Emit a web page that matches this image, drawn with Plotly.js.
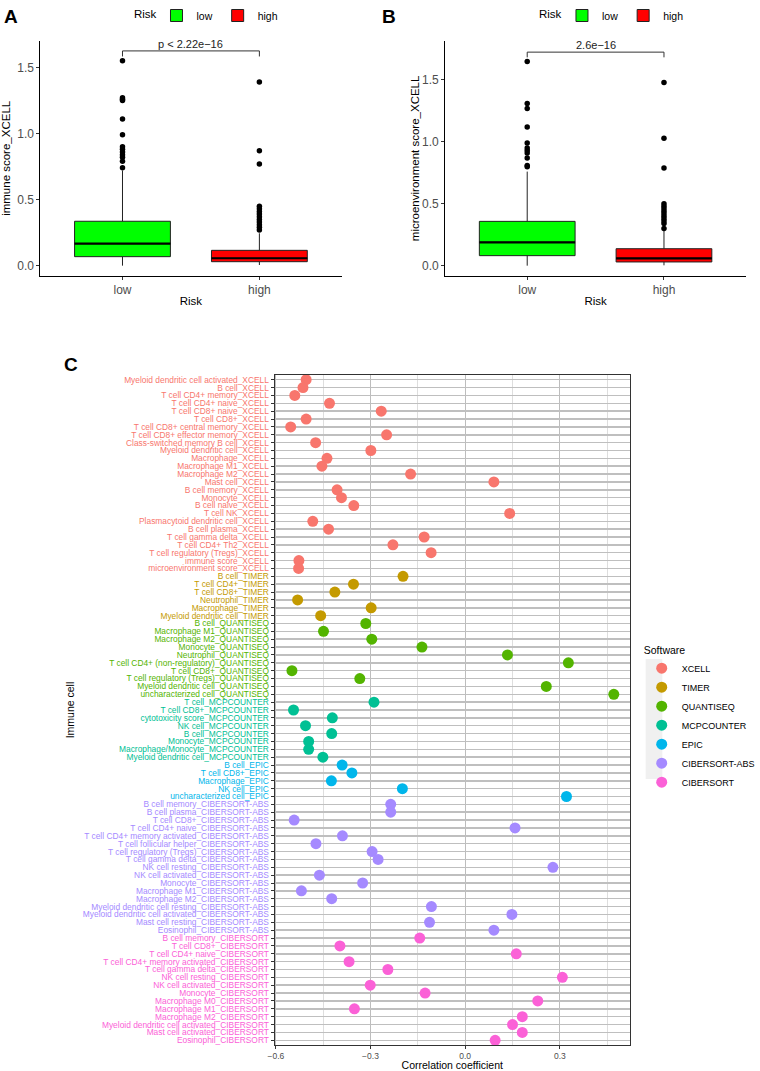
<!DOCTYPE html>
<html>
<head>
<meta charset="utf-8">
<script src="https://cdn.plot.ly/plotly-3.0.1.min.js"></script>
<style>html,body{margin:0;padding:0;background:#fff;}#chart{width:760px;height:1071px;}</style>
</head>
<body>
<div id="chart"></div>
<script>
// ---------- Panel A / B data (box statistics) ----------
const riskGroups = ['low', 'high'];
const riskColors = ['#00FF00', '#FF0000'];

const A_q1 = [0.068, 0.030];
const A_median = [0.167, 0.056];
const A_q3 = [0.336, 0.116];
const A_lowerfence = [0.0, 0.005];
const A_upperfence = [0.72, 0.245];
const A_outliersLow = [1.55, 1.27, 1.26, 1.25, 1.11, 0.99, 0.90, 0.88, 0.86, 0.84, 0.82, 0.79, 0.74];
const A_outliersHigh = [1.39, 0.87, 0.77, 0.45, 0.43, 0.41, 0.39, 0.37, 0.35, 0.33, 0.31, 0.29, 0.27];
const A_pLabel = 'p < 2.22e\u221216';

const B_q1 = [0.081, 0.030];
const B_median = [0.189, 0.059];
const B_q3 = [0.358, 0.137];
const B_lowerfence = [0.0, 0.003];
const B_upperfence = [0.76, 0.28];
const B_outliersLow = [1.65, 1.31, 1.27, 1.12, 0.99, 0.95, 0.93, 0.91, 0.87, 0.81, 0.80];
const B_outliersHigh = [1.48, 1.03, 0.79, 0.50, 0.48, 0.46, 0.44, 0.42, 0.40, 0.38, 0.36, 0.34, 0.30];
const B_pLabel = '2.6e\u221216';

// ---------- Panel C data ----------
const softwareNames = ['XCELL', 'TIMER', 'QUANTISEQ', 'MCPCOUNTER', 'EPIC', 'CIBERSORT-ABS', 'CIBERSORT'];
const softwareColors = ['#F8766D', '#C49A00', '#53B400', '#00C094', '#00B6EB', '#A58AFF', '#FB61D7'];

const xcellCells = ['Myeloid dendritic cell activated', 'B cell', 'T cell CD4+ memory', 'T cell CD4+ naive',
  'T cell CD8+ naive', 'T cell CD8+', 'T cell CD8+ central memory', 'T cell CD8+ effector memory',
  'Class-switched memory B cell', 'Myeloid dendritic cell', 'Macrophage', 'Macrophage M1', 'Macrophage M2',
  'Mast cell', 'B cell memory', 'Monocyte', 'B cell naive', 'T cell NK', 'Plasmacytoid dendritic cell',
  'B cell plasma', 'T cell gamma delta', 'T cell CD4+ Th2', 'T cell regulatory (Tregs)', 'immune score',
  'microenvironment score'];
const xcellCor = [-0.504, -0.514, -0.540, -0.430, -0.266, -0.504, -0.553, -0.249, -0.474, -0.299, -0.438,
  -0.454, -0.173, 0.091, -0.406, -0.392, -0.353, 0.141, -0.483, -0.433, -0.130, -0.229, -0.108, -0.527, -0.528];

const timerCells = ['B cell', 'T cell CD4+', 'T cell CD8+', 'Neutrophil', 'Macrophage', 'Myeloid dendritic cell'];
const timerCor = [-0.197, -0.354, -0.413, -0.531, -0.298, -0.458];

const quantiseqCells = ['B cell', 'Macrophage M1', 'Macrophage M2', 'Monocyte', 'Neutrophil',
  'T cell CD4+ (non-regulatory)', 'T cell CD8+', 'T cell regulatory (Tregs)', 'Myeloid dendritic cell',
  'uncharacterized cell'];
const quantiseqCor = [-0.315, -0.449, -0.296, -0.137, 0.134, 0.327, -0.549, -0.334, 0.257, 0.471];

const mcpcounterCells = ['T cell', 'T cell CD8+', 'cytotoxicity score', 'NK cell', 'B cell', 'Monocyte',
  'Macrophage/Monocyte', 'Myeloid dendritic cell'];
const mcpcounterCor = [-0.289, -0.544, -0.421, -0.506, -0.423, -0.496, -0.496, -0.451];

const epicCells = ['B cell', 'T cell CD8+', 'Macrophage', 'NK cell', 'uncharacterized cell'];
const epicCor = [-0.390, -0.359, -0.424, -0.199, 0.321];

const cibersortAbsCells = ['B cell memory', 'B cell plasma', 'T cell CD8+', 'T cell CD4+ naive',
  'T cell CD4+ memory activated', 'T cell follicular helper', 'T cell regulatory (Tregs)', 'T cell gamma delta',
  'NK cell resting', 'NK cell activated', 'Monocyte', 'Macrophage M1', 'Macrophage M2',
  'Myeloid dendritic cell resting', 'Myeloid dendritic cell activated', 'Mast cell resting', 'Eosinophil'];
const cibersortAbsCor = [-0.236, -0.236, -0.542, 0.158, -0.389, -0.473, -0.295, -0.276, 0.278, -0.462,
  -0.325, -0.519, -0.423, -0.107, 0.148, -0.113, 0.091];

const cibersortCells = ['B cell memory', 'T cell CD8+', 'T cell CD4+ naive', 'T cell CD4+ memory activated',
  'T cell gamma delta', 'NK cell resting', 'NK cell activated', 'Monocyte', 'Macrophage M0', 'Macrophage M1',
  'Macrophage M2', 'Myeloid dendritic cell activated', 'Mast cell activated', 'Eosinophil'];
const cibersortCor = [-0.144, -0.397, 0.162, -0.368, -0.245, 0.308, -0.301, -0.127, 0.230, -0.351, 0.181,
  0.150, 0.181, 0.095];

const cellLists = [xcellCells, timerCells, quantiseqCells, mcpcounterCells, epicCells, cibersortAbsCells, cibersortCells];
const corLists = [xcellCor, timerCor, quantiseqCor, mcpcounterCor, epicCor, cibersortAbsCor, cibersortCor];

// ---------- build ----------
const FONT = 'Liberation Sans, Arial, sans-serif';
const traces = [];
const shapes = [];
const annotations = [];
const H = 1071, W = 760;
const px = v => v / W;
const py = v => 1 - v / H;

function addBoxPanel(xa, ya, legendId, q1, med, q3, lf, uf, outLow, outHigh, pLabel) {
  riskGroups.forEach((g, i) => {
    traces.push({
      type: 'box', name: g, x: [g], q1: [q1[i]], median: [med[i]], q3: [q3[i]],
      lowerfence: [lf[i]], upperfence: [uf[i]], boxpoints: false, width: 0.7, whiskerwidth: 0,
      fillcolor: riskColors[i], line: {color: '#222', width: 1},
      xaxis: xa, yaxis: ya, legend: legendId, showlegend: true, hoverinfo: 'skip'
    });
    // thicker median line like ggplot
    shapes.push({type: 'line', xref: xa, yref: ya, x0: i - 0.35, x1: i + 0.35, y0: med[i], y1: med[i],
      line: {color: '#000', width: 2.2}});
  });
  const outs = [outLow, outHigh];
  riskGroups.forEach((g, i) => {
    traces.push({
      type: 'scatter', mode: 'markers', x: outs[i].map(() => g), y: outs[i],
      marker: {color: '#000', size: 5.5}, xaxis: xa, yaxis: ya, showlegend: false, hoverinfo: 'skip'
    });
  });
  const top = Math.max(...outLow, ...outHigh);
  const yb = top + 0.075;
  const yd = top + 0.033;
  shapes.push({type: 'path', xref: xa, yref: ya,
    path: `M 0 ${yd} L 0 ${yb} L 1 ${yb} L 1 ${yd}`, line: {color: '#333', width: 1}});
  annotations.push({xref: xa, yref: ya, x: 0.5, y: yb, text: pLabel, showarrow: false,
    yanchor: 'bottom', yshift: -1, font: {family: FONT, size: 11, color: '#222'}});
}

addBoxPanel('x', 'y', 'legend', A_q1, A_median, A_q3, A_lowerfence, A_upperfence, A_outliersLow, A_outliersHigh, A_pLabel);
addBoxPanel('x2', 'y2', 'legend2', B_q1, B_median, B_q3, B_lowerfence, B_upperfence, B_outliersLow, B_outliersHigh, B_pLabel);

const allCats = [];
const allTickText = [];
softwareNames.forEach((s, k) => {
  const labels = cellLists[k].map(c => c + '_' + s);
  labels.forEach(l => {
    allCats.push(l);
    allTickText.push(`<span style="color:${softwareColors[k]}">${l}</span>`);
  });
  traces.push({
    type: 'scatter', mode: 'markers', name: s, x: corLists[k], y: labels,
    marker: {color: softwareColors[k], size: 11},
    xaxis: 'x3', yaxis: 'y3', legend: 'legend3', hoverinfo: 'x+y'
  });
});

const boxAxisCommon = {
  showline: true, linecolor: '#000', linewidth: 1, ticks: 'outside', ticklen: 3, tickcolor: '#333',
  showgrid: false, zeroline: false, tickfont: {family: FONT, size: 12, color: '#4d4d4d'}
};

annotations.push(
  {xref: 'paper', yref: 'paper', x: px(2), y: py(4), xanchor: 'left', yanchor: 'top', text: '<b>A</b>',
    showarrow: false, font: {family: FONT, size: 19, color: '#000'}},
  {xref: 'paper', yref: 'paper', x: px(386), y: py(4), xanchor: 'left', yanchor: 'top', text: '<b>B</b>',
    showarrow: false, font: {family: FONT, size: 19, color: '#000'}},
  {xref: 'paper', yref: 'paper', x: px(63), y: py(352), xanchor: 'left', yanchor: 'top', text: '<b>C</b>',
    showarrow: false, font: {family: FONT, size: 19, color: '#000'}},
  // legend titles for panels A and B
  {xref: 'paper', yref: 'paper', x: px(162), y: py(14), xanchor: 'right', yanchor: 'middle', text: 'Risk',
    showarrow: false, font: {family: FONT, size: 11.5, color: '#000'}},
  {xref: 'paper', yref: 'paper', x: px(573), y: py(14), xanchor: 'right', yanchor: 'middle', text: 'Risk',
    showarrow: false, font: {family: FONT, size: 11.5, color: '#000'}}
);

// light grey key background behind the Software legend symbols
shapes.push({type: 'rect', xref: 'paper', yref: 'paper', x0: px(656), x1: px(673), y0: py(659), y1: py(779),
  fillcolor: '#f0f0f0', line: {width: 0}, layer: 'below'});

const layout = {
  width: W, height: H,
  margin: {l: 0, r: 0, t: 0, b: 0},
  paper_bgcolor: '#fff', plot_bgcolor: '#fff',
  font: {family: FONT, color: '#000'},
  boxmode: 'overlay',
  showlegend: true,
  xaxis: Object.assign({}, boxAxisCommon, {domain: [px(41), px(347)], anchor: 'y', type: 'category',
    categoryarray: riskGroups, range: [-0.6, 1.6],
    title: {text: 'Risk', font: {family: FONT, size: 11.5, color: '#000'}, standoff: 0}}),
  yaxis: Object.assign({}, boxAxisCommon, {domain: [py(275.7), py(41)], anchor: 'x', range: [-0.076, 1.70],
    dtick: 0.5, tickformat: '.1f',
    title: {text: 'immune score_XCELL', font: {family: FONT, size: 11.5, color: '#000'}, standoff: 4}}),
  xaxis2: Object.assign({}, boxAxisCommon, {domain: [px(452.3), px(758)], anchor: 'y2', type: 'category',
    categoryarray: riskGroups, range: [-0.6, 1.6],
    title: {text: 'Risk', font: {family: FONT, size: 11.5, color: '#000'}, standoff: 0}}),
  yaxis2: Object.assign({}, boxAxisCommon, {domain: [py(275.7), py(41)], anchor: 'x2', range: [-0.081, 1.815],
    dtick: 0.5, tickformat: '.1f',
    title: {text: 'microenvironment score_XCELL', font: {family: FONT, size: 11.5, color: '#000'}, standoff: 0}}),
  xaxis3: {domain: [px(279), px(640)], anchor: 'y3', range: [-0.604, 0.522], tick0: 0, dtick: 0.3,
    tickformat: '.1f', showline: true, mirror: true, linecolor: '#333', linewidth: 1,
    ticks: 'outside', ticklen: 3, tickcolor: '#333', zeroline: false,
    showgrid: true, gridcolor: '#bdbdbd', gridwidth: 1,
    minor: {tick0: 0, dtick: 0.15, showgrid: true, gridcolor: '#dedede', gridwidth: 1, ticks: ''},
    tickfont: {family: FONT, size: 8.5, color: '#4d4d4d'},
    title: {text: 'Correlation coefficient', font: {family: FONT, size: 10.5, color: '#000'}, standoff: 2}},
  yaxis3: {domain: [py(1045), py(375)], anchor: 'x3', type: 'category', categoryarray: allCats,
    tickvals: allCats, ticktext: allTickText, range: [84.6, -0.6],
    showline: true, mirror: true, linecolor: '#333', linewidth: 1,
    ticks: 'outside', ticklen: 3, tickcolor: '#333',
    showgrid: true, gridcolor: '#bfbfbf', gridwidth: 1.5, zeroline: false,
    tickfont: {family: FONT, size: 8.4},
    title: {text: 'Immune cell', font: {family: FONT, size: 10.5, color: '#000'}, standoff: 6}},
  legend: {orientation: 'h', x: px(159), y: py(1), xanchor: 'left', yanchor: 'top',
    font: {family: FONT, size: 10.5, color: '#000'}, bgcolor: 'rgba(0,0,0,0)', itemwidth: 30},
  legend2: {orientation: 'h', x: px(571), y: py(1), xanchor: 'left', yanchor: 'top',
    font: {family: FONT, size: 10.5, color: '#000'}, bgcolor: 'rgba(0,0,0,0)', itemwidth: 30},
  legend3: {x: px(652), y: py(640), xanchor: 'left', yanchor: 'top',
    title: {text: 'Software', font: {family: FONT, size: 10.5, color: '#000'}},
    font: {family: FONT, size: 9, color: '#000'}, bgcolor: 'rgba(0,0,0,0)', itemwidth: 30},
  shapes: shapes,
  annotations: annotations
};

Plotly.newPlot('chart', traces, layout, {staticPlot: true, displayModeBar: false});
</script>
</body>
</html>
